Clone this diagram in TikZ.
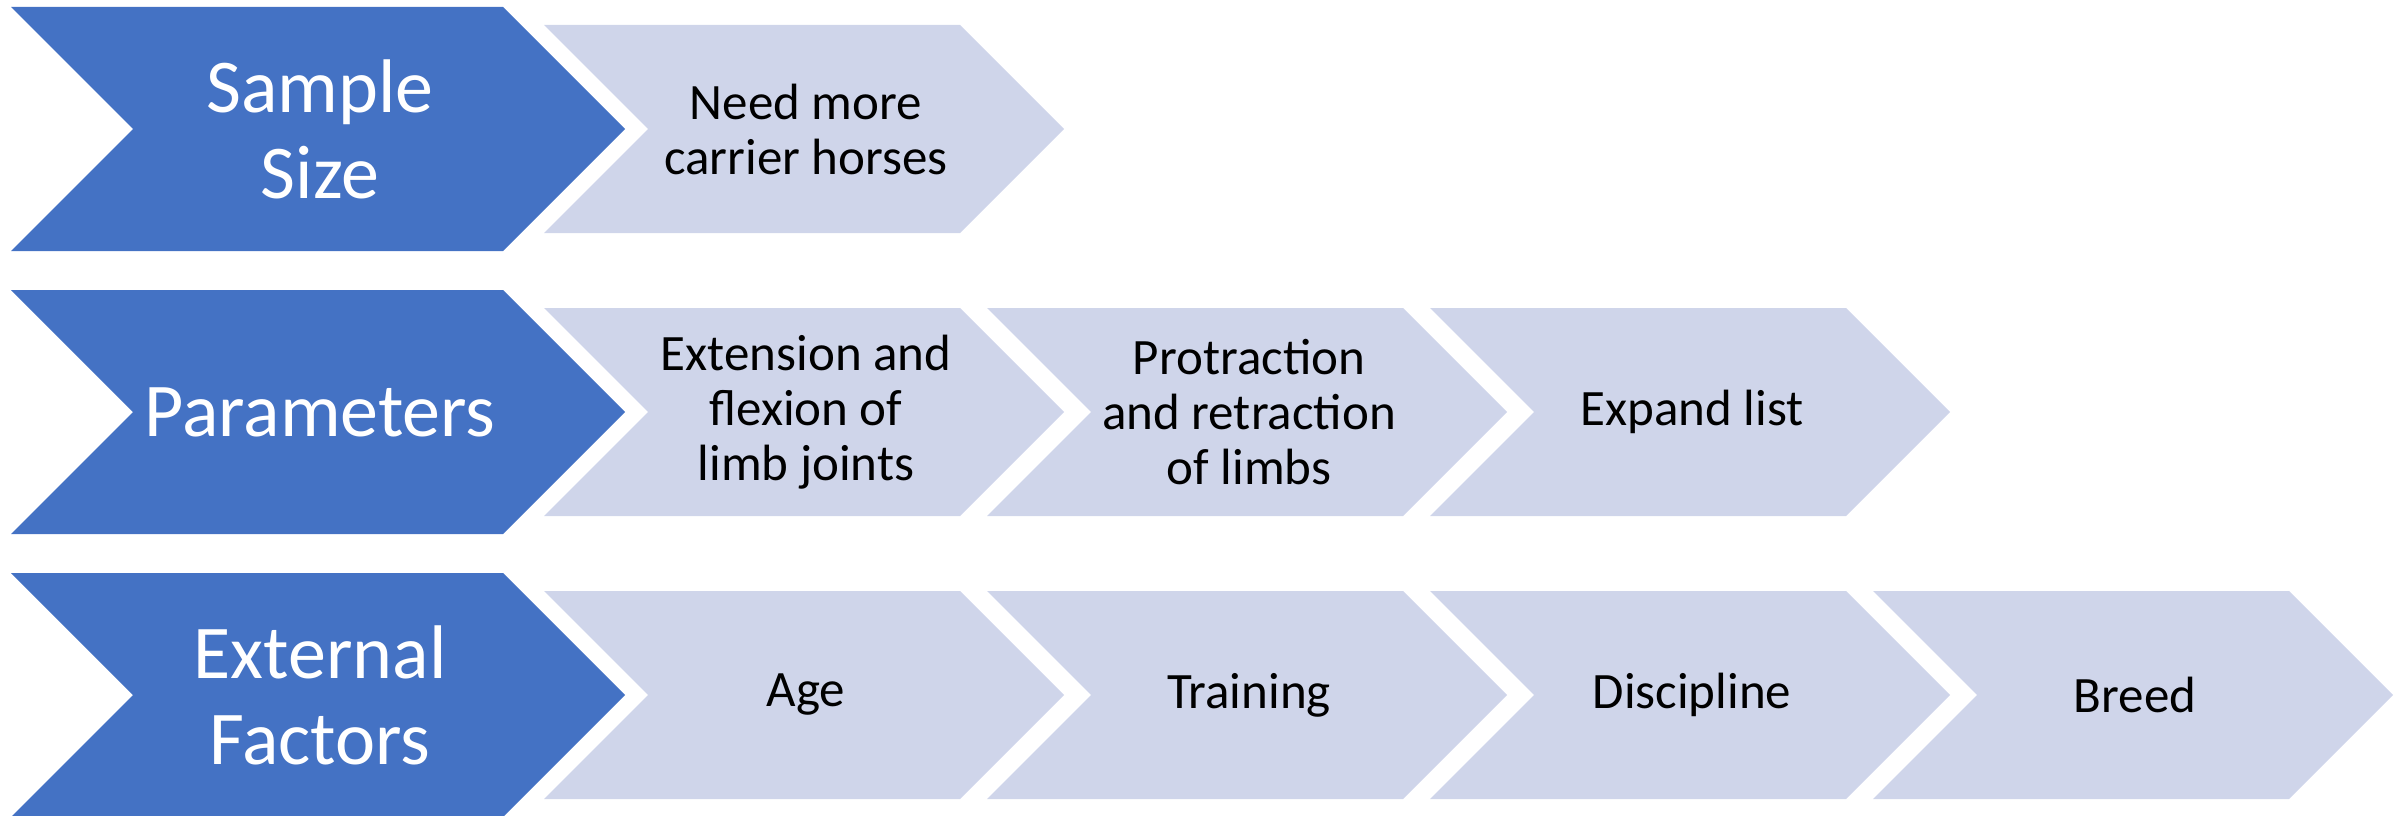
\documentclass[tikz,border=0pt]{standalone}
\usepackage{fontspec}
\setmainfont{Carlito}
\definecolor{headblue}{HTML}{4472C4}
\definecolor{itemblue}{HTML}{CFD5EA}
\tikzset{
    head/.style={fill=headblue},
    item/.style={fill=itemblue},
    headtext/.style={text=white, align=center, font=\fontsize{76}{86}\selectfont},
    itemtext/.style={text=black, align=center, font=\fontsize{51}{55}\selectfont},
}
\begin{document}
\begin{tikzpicture}[x=1pt,y=-1pt]
    \useasboundingbox (0,0) rectangle (2402,816);
    %% row headings
    \foreach \r/\txt in {1/{Sample\\Size}, 2/Parameters, 3/{External\\Factors}} {
        \pgfmathsetmacro{\yc}{129+283*(\r-1)}
        \fill[head] (11,\yc-122) -- ++(492,0) -- ++(122,122) -- ++(-122,122)
            -- ++(-492,0) -- ++(122,-122) -- cycle;
        \node[headtext] (head-\r) at (320,\yc) {\txt};
    }
    %% steps of each row
    \foreach \r/\c/\txt in {1/0/{Need more\\carrier horses},
            2/0/{Extension and\\flexion of\\limb joints},
            2/1/{Protraction\\and retraction\\of limbs},
            2/2/{Expand list},
            3/0/Age, 3/1/Training, 3/2/Discipline, 3/3/Breed} {
        \pgfmathsetmacro{\yc}{129+283*(\r-1)}
        \pgfmathsetmacro{\xo}{544+443*\c}
        \fill[item] (\xo,\yc-104) -- ++(416,0) -- ++(104,104) -- ++(-104,104)
            -- ++(-416,0) -- ++(104,-104) -- cycle;
        \node[itemtext] (step-\r-\c) at (\xo+262,\yc) {\txt};
    }
\end{tikzpicture}
\end{document}
